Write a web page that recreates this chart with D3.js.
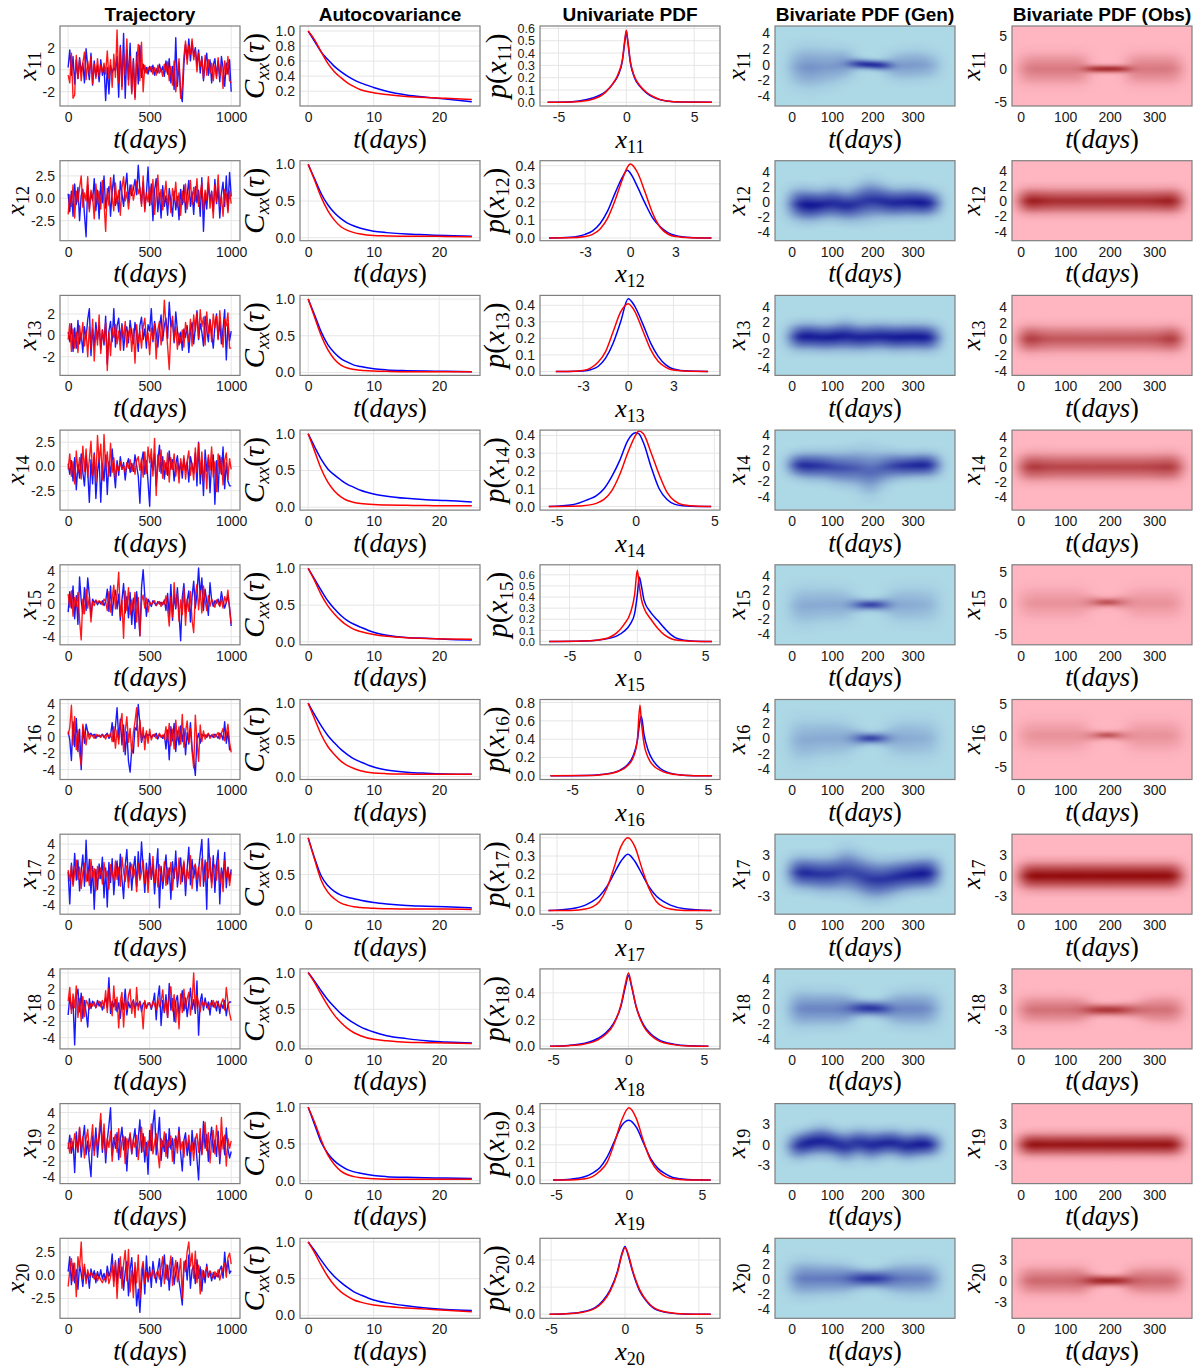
<!DOCTYPE html>
<html>
<head>
<meta charset="utf-8">
<script src="https://cdn.jsdelivr.net/npm/d3@7"></script>
<style>
  body { margin: 0; background: #fff; }
</style>
</head>
<body>
<svg id="chart" width="1201" height="1370"></svg>
<script>
// ---- data ----
const variables = ["11", "12", "13", "14", "15", "16", "17", "18", "19", "20"];
const titles = ["Trajectory", "Autocovariance", "Univariate PDF", "Bivariate PDF (Gen)", "Bivariate PDF (Obs)"];

// trajectories, one value every 10 days (0..1000)
const trajDays = d3.range(0, 1001, 10);
const trajBlue = [
  [0.2,1.8,-0.5,1.2,-1.3,0.9,-0.8,1.1,-0.2,0.6, -1.2,1.9,0.3,-0.9,1.5,-1.4,0.8,-0.6,0.4,-1.1, 0.9,-0.5,0.3,-2.8,0.2,-2.2,0.4,-0.3,0.2,-0.1, 1.2,-2.5,2.2,-1.5,3.3,-2.6,1.8,-0.9,2.4,-2.0, 1.0,-2.5,1.6,-1.3,2.2,-0.7,0.5,-0.3,0.2,-0.4, 0.3,-0.2,0.4,-0.5,0.1,-0.3,0.5,-0.2,0.3,-0.6, 0.8,-0.4,1.0,-1.2,0.3,-1.8,2.9,-1.5,0.6,-2.2, -2.9,0.5,2.3,1.0,2.8,0.8,2.5,1.2,2.0,0.4, 1.8,-0.3,1.2,-1.0,0.6,1.5,-0.5,0.9,-1.2,0.4, 1.0,-0.6,0.8,-1.1,1.2,0.2,-1.5,0.6,-0.4,0.9, -2.0],
  [0.5,-1.5,0.8,-2.0,1.6,-0.7,1.2,-2.5,0.3,1.0, -1.8,-4.3,1.5,-1.2,0.6,-0.3,2.2,-1.4,0.9,-2.3, 1.8,-0.5,2.5,-1.1,0.4,1.3,-2.0,0.7,2.6,-0.8, 0.2,-1.5,1.9,0.5,-0.9,1.2,2.8,-0.4,1.5,0.3, 1.0,2.1,0.4,3.7,0.9,-0.6,1.8,-1.2,0.5,3.5, -0.8,1.6,-2.5,0.9,2.2,-1.5,0.6,-2.2,1.4,-0.9, 0.3,-1.9,1.1,-0.4,-2.0,0.8,-1.3,0.2,-2.4,1.0, -0.7,1.5,-1.6,0.4,2.0,-0.9,0.7,-1.8,1.3,-0.5, 0.9,-2.0,2.3,-3.7,0.6,-1.2,1.7,-0.3,0.8,-1.5, 2.1,-0.6,1.2,-2.2,0.5,1.8,-0.9,2.5,-1.3,2.9, 0.2],
  [0.3,-0.6,1.1,-1.5,0.7,-1.2,1.4,-0.8,0.2,-1.6, 0.8,-0.3,1.5,2.5,-1.9,0.6,-1.0,1.2,-0.4,0.9, -1.3,0.5,-0.9,1.8,-2.7,0.4,1.3,-0.6,2.5,-1.1, 0.9,1.6,-0.5,1.1,-1.4,0.3,0.8,-0.7,1.4,0.2, -0.8,1.2,0.1,-1.5,0.9,1.7,-0.4,0.6,-1.2,1.0, 0.4,2.5,-0.6,1.3,0.2,-1.1,0.7,1.9,-0.5,0.9, 1.6,-0.3,3.1,0.8,1.4,-0.7,2.2,0.5,-0.9,0.3, -1.4,0.6,-0.2,0.9,-1.6,0.4,1.2,-0.8,0.7,2.3, -0.4,1.1,0.3,-1.0,1.8,0.5,-0.6,1.5,0.2,-1.2, 0.9,2.0,-0.3,1.3,-0.8,0.6,2.4,-2.3,1.1,-0.5, 0.4],
  [0.3,-0.8,0.6,-1.5,0.9,-2.4,0.2,-1.2,1.3,-0.6, -2.0,1.1,-0.5,-3.7,0.7,-1.8,1.4,-3.3,-0.6,0.9, -3.7,0.3,-1.5,1.2,-2.9,0.5,-1.0,1.8,-0.4,-2.2, 0.6,-0.9,1.0,-0.3,0.4,-1.4,0.2,0.8,-0.6,0.3, -0.5,1.2,0.1,-1.0,-3.8,0.4,1.5,-0.8,0.6,-1.6, -4.1,0.9,-0.4,1.3,-2.0,0.5,2.2,-0.7,1.0,-1.3, 0.4,-0.9,1.6,-0.3,0.7,-1.5,0.2,1.1,-0.6,0.4, -1.2,0.8,-0.4,0.5,-1.6,1.0,0.2,-0.7,1.4,-2.0, 2.5,-1.8,0.6,-3.0,1.7,-0.5,0.9,-2.7,0.3,1.2, -3.9,0.6,-2.6,1.1,-0.8,2.0,-2.3,0.4,-1.5,-2.0, -2.0],
  [-1.0,1.5,-0.5,2.2,-1.8,1.0,-2.5,3.3,0.4,-1.2, 2.0,-0.8,3.2,1.1,-1.5,0.6,0.2,0.4,-0.1,0.3, 0.0,0.4,-0.2,0.3,1.8,-0.9,2.2,-1.4,0.8,1.7, -0.6,1.2,-2.0,0.5,2.5,-1.1,0.9,-1.7,1.4,-2.5, 0.7,-3.0,1.5,-0.4,-3.9,2.0,4.2,1.0,-1.5,0.6, 0.2,-0.3,0.4,0.1,-0.2,0.3,0.0,0.2,-0.1,0.5, -0.8,1.3,-1.5,2.4,-2.0,1.1,-0.6,2.0,-1.2,-4.5, 0.8,2.5,-1.0,0.4,1.6,-2.2,0.9,2.8,-0.5,1.2, 4.4,1.0,3.2,-0.8,1.8,0.3,-1.4,2.6,0.5,-0.3, 0.4,0.1,0.6,-0.2,1.5,0.3,-0.5,0.2,1.0,-0.4, -2.7],
  [0.6,-0.4,-2.9,1.8,-1.2,2.2,-1.8,0.9,-4.0,1.2, -0.8,1.5,0.6,0.2,0.4,0.1,0.3,-0.2,0.2,0.0, 0.1,0.3,-0.1,0.2,0.4,-0.2,0.1,1.7,-0.6,1.2, 3.5,-0.3,2.1,-1.0,1.4,-2.2,0.6,-3.0,-4.3,-1.5, -2.0,1.1,0.8,3.9,1.5,-0.7,0.3,-0.2,0.4,0.1, 0.3,-0.1,0.2,0.0,0.4,-0.3,0.2,0.1,-0.2,0.3, -1.5,0.8,-2.8,1.2,-0.5,1.6,-1.8,0.7,-1.0,1.3, -0.6,1.0,-2.2,0.5,-0.9,1.7,-1.4,-2.8,-4.7,-0.3, 0.4,-0.8,0.3,0.1,0.2,-0.1,0.3,0.0,0.2,-0.1, 0.3,0.1,-0.2,0.4,0.2,-0.4,1.8,-0.8,0.6,-1.6, -1.6],
  [0.4,-3.8,1.5,-1.2,2.8,-0.7,1.9,-2.1,0.5,2.6, -1.5,4.5,-0.8,2.0,-2.4,1.1,-4.5,0.7,-1.9,1.4, -0.5,2.3,-3.0,0.9,-4.2,1.6,-1.0,2.1,-2.6,0.3, 1.8,-1.4,2.7,-0.6,-3.1,1.2,3.3,-0.9,1.6,-2.0, 0.8,2.4,-1.5,3.0,-0.4,4.3,0.9,-2.3,1.5,-1.0, 2.8,-0.6,1.4,-2.5,0.7,3.4,-4.3,1.1,-1.8,0.5, 2.6,-1.2,0.9,-3.2,1.7,-0.5,3.1,-1.6,0.4,2.2, -0.9,1.5,-2.7,0.8,3.6,-1.3,2.0,-0.4,1.2,-2.1, 0.6,2.7,4.6,-1.5,1.9,-4.5,4.7,0.8,-1.0,2.5, -2.3,1.4,3.2,-3.8,0.9,-0.6,2.9,-1.7,1.0,-0.8, 0.7],
  [-1.2,1.0,-0.5,0.4,-4.9,1.2,2.0,-0.8,1.5,-1.6, 0.6,-0.9,-2.7,0.8,-0.4,0.5,0.2,-0.3,0.6,-0.1, 0.4,-0.6,0.2,0.9,-0.3,3.4,-1.0,0.5,-0.2,0.7, -0.8,0.3,-1.6,0.6,-0.5,2.0,-1.2,0.4,-0.3,0.2, 0.6,-0.4,0.3,-0.1,0.5,-0.8,0.2,0.4,-0.3,0.1, 0.3,-0.5,0.2,1.5,-1.8,0.9,2.4,-2.5,0.6,-0.9, 1.3,-1.5,2.7,-0.6,0.8,-2.0,0.5,1.2,-1.1,0.4, 1.8,-0.7,0.9,-1.4,0.3,2.1,-0.5,0.7,-1.0,3.0, -3.7,0.5,1.4,-0.6,0.9,-0.3,0.4,-1.2,0.6,-0.2, 0.3,-0.7,0.5,-1.0,0.2,-0.4,0.6,-1.3,0.1,0.4, 0.4],
  [-0.5,1.2,-1.0,0.4,-3.4,1.6,-0.8,2.0,-1.5,0.7, 2.4,-1.2,0.5,-2.0,-3.9,1.1,-0.7,2.1,-1.5,0.8, 3.0,-0.9,1.7,-2.2,0.6,2.4,4.6,-1.3,0.9,-0.4, 1.5,-1.8,0.7,2.2,-0.6,1.0,-3.2,0.4,1.3,-1.1, 0.6,2.0,-1.4,0.8,3.1,-0.9,1.4,-2.1,0.3,-3.6, 1.8,-0.7,2.6,4.3,-1.2,0.9,3.4,-1.9,0.5,-0.8, 1.4,-1.6,2.0,-0.5,0.8,-2.3,1.1,-0.3,2.2,-1.0, -3.2,0.6,1.5,-1.3,0.4,-2.5,1.8,-0.6,0.9,-1.7, -4.3,0.7,-1.1,2.9,-0.4,1.3,-2.0,0.5,2.2,-0.9, 0.6,-1.4,1.7,-2.3,0.3,1.0,-1.2,2.1,-0.5,-1.6, -0.8],
  [0.4,2.0,-1.0,1.3,-0.8,0.6,-1.5,1.1,0.2,-1.2, 0.9,-0.5,0.3,-1.4,0.7,-0.2,0.5,-0.8,0.4,-0.3, 0.6,-0.4,0.2,-0.7,1.0,-0.1,0.5,2.3,-0.6,1.4, -0.9,1.8,-0.3,0.9,-1.6,0.4,1.5,-2.2,0.6,1.9, -1.0,0.8,-3.3,-1.5,-4.0,-0.8,1.2,-2.0,2.1,-0.7, 0.9,-1.3,1.5,0.2,-0.8,0.6,1.8,-1.2,0.5,2.2, -0.4,1.1,-1.6,0.7,1.9,-1.0,0.3,1.4,-0.6,-1.8, -3.2,0.8,1.6,-0.5,2.2,-1.4,0.6,1.0,-0.9,1.7, -0.3,0.9,-1.7,0.5,-0.8,1.2,-0.2,0.4,-0.6,0.3, -0.4,0.2,-0.2,0.6,1.0,-0.3,2.5,0.4,1.6,0.2, 0.5]
];
const trajRed = [
  [-0.5,-1.2,1.5,-2.6,-2.3,1.3,-0.8,0.9,-1.0,0.6, 1.6,-0.9,0.8,-0.4,1.2,-1.3,0.5,-0.8,1.0,-0.6, 0.4,-0.2,0.6,-0.4,1.7,-0.8,0.9,-1.6,1.4,-0.7, 3.6,-1.2,2.0,-1.8,1.5,-0.5,2.8,-1.4,1.2,-2.2, 0.8,-2.7,0.5,2.3,-1.0,2.5,-2.0,0.4,-0.3,0.2, -0.1,0.3,-0.4,0.2,-0.5,0.4,-0.3,0.1,-0.6,0.5, -0.2,0.7,-1.0,0.3,-1.4,0.8,-2.0,-0.6,1.0,-2.6, -1.5,1.2,2.6,0.5,2.2,1.4,2.8,0.9,1.8,-0.2, 1.5,0.3,1.0,-0.8,1.3,-0.5,0.9,-0.3,0.6,-1.0, 0.4,-0.8,1.1,-0.6,0.5,-1.7,0.8,-0.4,1.2,-1.0, -1.2],
  [-1.8,0.4,-0.9,1.5,-2.2,0.8,-0.4,1.2,2.5,-1.0, 0.6,-0.3,2.4,-1.5,0.9,0.2,-2.3,1.6,-0.6,0.8, -1.2,2.0,-0.5,-3.7,1.1,-0.8,2.3,0.1,-1.4,1.7, -0.6,0.9,-1.9,1.2,2.4,-0.3,0.7,-1.2,0.4,1.5, -0.2,0.8,1.9,0.5,1.2,-0.9,2.5,-1.5,0.6,-0.4, 1.3,-0.7,2.1,-1.8,0.4,2.6,-0.5,1.0,-1.3,0.3, 1.9,-0.8,0.5,-1.6,1.1,-0.2,1.8,-1.0,0.6,-1.9, 0.8,-0.5,1.6,-1.2,0.3,2.0,-0.7,1.2,-0.3,2.2, -0.9,0.5,1.7,-1.4,0.9,-0.2,2.4,-1.1,0.7,-2.2, 1.5,-0.4,2.6,-0.9,0.3,-2.0,1.0,0.4,-1.6,0.8, -0.6],
  [-0.4,1.1,-1.5,0.6,-1.2,0.3,-1.6,0.9,-0.5,1.2, -1.0,0.4,-2.0,0.8,-1.3,1.5,-2.4,0.6,-0.9,1.9, -1.7,0.5,-0.6,1.2,-3.3,0.3,-1.9,0.7,-0.2,1.0, -0.8,0.4,-1.4,0.9,-0.3,1.3,-1.1,0.2,0.7,-1.5, 0.6,-2.6,1.0,-0.7,0.4,-1.2,0.8,1.6,-0.5,0.2, -1.8,0.7,-0.4,1.1,-2.2,0.5,1.3,-0.9,0.4,3.3, 0.9,-1.0,-3.2,0.6,1.8,-0.5,0.8,-1.3,0.2,-0.7, 0.5,-1.1,1.2,0.3,-0.6,1.5,-1.0,1.9,0.4,2.1, -0.3,2.4,0.8,1.7,-0.9,2.2,0.2,1.4,-0.6,2.0, 0.7,1.8,-0.4,2.3,0.3,-1.1,1.5,0.9,2.1,-1.2, -1.2],
  [-0.3,1.3,-1.0,0.5,-1.8,1.6,-0.6,0.9,-1.3,2.1, -0.5,1.8,-1.1,0.7,2.6,-0.9,1.2,-1.6,3.2,0.4, 2.3,-1.4,3.3,-0.2,1.5,-1.0,2.4,-0.6,0.9,-1.2, 0.2,-0.4,0.5,-0.3,0.1,-0.6,0.4,-0.2,0.7,-0.5, 0.3,-0.8,0.6,1.0,-0.4,0.8,-1.1,1.5,-0.7,2.0, 0.4,1.8,-1.0,2.9,-3.0,1.2,-0.5,1.7,-1.2,0.6, -0.8,1.4,-1.6,0.9,-0.3,1.3,-1.0,0.5,-1.7,0.8, -0.4,1.1,-1.3,0.6,1.6,-0.9,0.3,-1.4,1.9,-0.6, 2.4,-0.8,1.5,-1.6,0.7,-2.3,1.2,-0.4,2.0,-1.1, 0.5,-2.6,1.3,-0.7,0.9,-1.9,0.6,1.4,-1.3,0.8, -0.3],
  [1.2,-0.4,1.6,-1.5,0.8,-0.3,1.4,-2.0,-4.4,0.6, -1.2,1.8,-0.5,0.9,-2.2,0.3,-0.2,0.5,0.1,0.4, 0.2,-0.1,0.6,0.3,-0.8,1.5,-1.0,0.7,2.3,-0.6, 1.2,3.9,-1.5,0.4,-4.2,1.6,-0.8,2.0,-1.3,0.5, -0.9,1.4,-2.2,0.8,-3.9,0.3,1.1,-0.5,0.7,-1.0, 0.3,-0.1,0.2,0.4,-0.2,0.1,0.3,-0.3,0.2,0.0, 1.0,-0.6,-2.7,0.9,-1.6,2.6,-0.4,1.3,-2.1,0.5, -1.3,1.9,-2.6,0.6,-0.9,1.5,-2.0,-3.5,1.1,2.4, -0.7,1.6,-1.1,2.2,0.4,-0.8,1.0,-0.3,0.6,0.2, -0.4,0.5,0.1,-0.3,0.6,-0.5,0.9,0.2,1.7,-0.6, -2.4],
  [0.2,1.1,3.8,-1.0,2.4,-1.6,0.8,-2.1,-3.5,1.5, 0.4,-1.0,0.6,-0.3,0.2,0.1,-0.2,0.3,0.0,0.2, -0.1,0.2,0.1,-0.3,0.3,0.0,0.4,-0.6,1.2,-1.4, 0.8,-0.9,1.5,2.8,-1.8,0.6,2.4,-0.7,1.0,-2.1, 0.5,1.8,3.5,-1.2,2.0,-0.5,1.1,-1.6,0.7,-0.8, 0.9,-0.4,0.2,0.3,-0.2,0.1,0.4,-0.1,0.2,-0.3, 1.2,-0.6,1.6,-1.1,0.9,-1.5,2.0,-0.4,1.2,-0.9, 2.7,-1.3,0.6,1.9,-0.7,1.0,-1.8,-3.8,2.6,-0.5, -3.0,1.4,-0.6,0.7,-0.3,0.2,0.4,-0.2,0.1,0.3, -0.1,0.2,0.5,-0.3,0.4,1.0,-0.5,0.3,1.5,-0.7, -1.9],
  [0.6,-0.8,1.2,-1.5,0.4,1.9,-0.6,1.0,-1.8,0.3, 1.5,-0.9,0.7,-1.4,2.0,-0.3,0.8,-2.1,1.1,-0.5, 0.9,-1.2,1.6,-0.4,0.5,-1.9,1.3,0.2,-0.8,1.8, -0.6,1.0,-1.5,2.3,0.4,-0.9,1.2,-1.7,0.6,1.4, -0.4,0.8,-2.2,1.5,-0.7,0.3,1.9,-1.1,0.6,-2.3, 1.2,-0.5,2.4,-1.0,0.7,-1.6,1.3,0.1,-0.9,1.7, -1.4,0.9,-0.3,1.6,-2.0,0.5,1.1,-0.8,2.2,-1.2, 0.4,1.8,-1.3,0.7,-0.5,2.5,-1.8,0.9,1.4,-0.6, 1.0,-1.5,2.1,0.3,-0.9,1.6,-0.4,2.3,-1.7,0.8, 1.3,-0.7,2.0,-1.1,0.5,-2.2,1.8,-0.3,0.9,-1.4, 0.3],
  [0.5,2.2,-1.0,1.4,-0.3,2.4,-1.5,0.8,-2.0,1.1, -1.4,0.6,0.2,-0.5,0.3,-0.1,0.4,-0.3,0.2,0.5, -0.2,0.6,-0.4,1.8,-0.9,2.1,0.3,-1.3,2.4,-0.6, 1.0,-2.8,0.5,1.6,-2.7,0.8,-0.5,1.2,2.0,-1.0, 0.7,-1.5,2.2,-0.6,0.4,-0.2,-2.9,0.6,-0.4,0.3, 0.2,-0.3,0.5,0.1,-0.6,0.8,-0.2,0.4,1.9,-0.8, 0.6,-1.5,1.1,2.3,-0.7,1.3,-2.1,0.5,-2.9,1.4, -0.9,2.0,-0.4,0.8,1.6,-1.2,0.5,4.0,-0.6,1.2, 0.3,-0.8,0.6,-0.2,0.4,0.1,-0.5,0.3,-0.1,0.6, -0.3,0.5,0.2,-0.4,0.3,0.8,-0.6,2.2,0.4,-1.0, -1.9],
  [0.3,-1.0,0.8,-0.4,1.4,0.2,-0.9,2.2,-0.5,1.0, -1.6,0.7,1.9,-0.8,0.4,2.5,-1.3,0.9,-0.2,1.6, 3.9,-0.5,2.6,-1.2,0.8,-0.3,1.7,-2.0,0.6,1.3, -0.9,2.0,-1.5,0.5,1.1,-2.3,0.8,-0.4,1.5,-1.0, 0.7,-0.3,1.2,-1.8,0.4,2.2,-0.8,1.0,-1.3,0.5, -0.6,2.6,-1.1,0.3,1.4,-0.9,-2.8,0.8,-0.2,1.6, -1.4,0.6,-0.3,1.1,-2.0,0.5,0.9,-1.0,1.7,-0.6, 0.4,-1.5,0.8,-0.4,1.2,-0.8,0.3,-1.9,0.7,1.4, -0.9,2.0,-1.2,0.6,2.8,-0.7,1.5,-2.2,0.4,1.8, -1.1,2.4,0.3,-1.6,3.4,-0.5,1.2,-2.6,0.8,-0.4, 0.5],
  [-1.2,0.5,1.8,-0.6,1.3,-2.3,2.0,0.8,3.6,-0.4, 1.2,-0.9,0.6,-0.2,0.3,0.1,-0.4,0.2,-0.6,-0.1, -0.5,-0.8,-0.3,-0.6,0.4,-0.9,-0.2,1.1,-1.2,1.6, -2.5,0.8,2.0,-1.4,1.2,2.7,-0.6,2.8,-1.8,0.5, -2.4,1.4,-0.8,2.2,-2.5,0.6,1.5,-0.9,0.3,-0.5, 0.4,-0.2,0.6,-0.3,0.2,0.5,-0.4,0.8,2.0,-0.9, 1.2,-0.5,0.7,2.1,-1.1,0.4,1.6,-0.7,0.2,1.8, -2.5,1.5,0.4,2.6,3.6,1.0,2.4,-0.3,2.6,-0.8, 1.1,-2.0,0.6,-0.4,0.3,0.9,-0.2,0.5,0.1,-0.3, 0.4,-0.1,0.6,-0.5,0.2,0.8,1.3,-0.2,1.9,2.4, 1.2]
];
const trajYDomain = [[-3.3,3.97],[-4.74,4.2],[-3.75,3.74],[-4.5,3.75],[-5.0,4.8],[-5.2,4.5],[-5.15,5.3],[-5.4,4.5],[-4.76,5.1],[-4.64,4.0]];
const trajYTicks = [[-2,0,2],[-2.5,0,2.5],[-2,0,2],[-2.5,0,2.5],[-4,-2,0,2,4],[-4,-2,0,2,4],[-4,-2,0,2,4],[-4,-2,0,2,4],[-4,-2,0,2,4],[-2.5,0,2.5]];
const trajXTicks = [0, 500, 1000];

// autocovariance
const acfLags = [0,1,2,3,4,5,6,7,8,10,12,15,18,21,25];
const acfBlue = [
  [1,0.86,0.72,0.62,0.53,0.46,0.4,0.35,0.31,0.25,0.2,0.15,0.12,0.095,0.06],
  [1,0.8,0.6,0.45,0.34,0.26,0.2,0.16,0.13,0.09,0.07,0.05,0.04,0.03,0.02],
  [1,0.78,0.55,0.38,0.27,0.19,0.14,0.1,0.08,0.05,0.035,0.025,0.02,0.015,0.01],
  [1,0.82,0.65,0.52,0.44,0.37,0.31,0.27,0.23,0.18,0.15,0.12,0.1,0.09,0.07],
  [1,0.85,0.7,0.56,0.45,0.36,0.29,0.24,0.2,0.13,0.09,0.06,0.05,0.035,0.025],
  [1,0.84,0.69,0.56,0.46,0.37,0.3,0.24,0.2,0.13,0.09,0.06,0.045,0.035,0.03],
  [1,0.72,0.48,0.35,0.27,0.22,0.19,0.17,0.15,0.12,0.1,0.08,0.07,0.06,0.045],
  [1,0.88,0.75,0.63,0.53,0.44,0.37,0.31,0.26,0.19,0.14,0.1,0.07,0.055,0.04],
  [1,0.76,0.52,0.37,0.27,0.2,0.15,0.12,0.1,0.07,0.055,0.045,0.04,0.035,0.03],
  [1,0.88,0.75,0.63,0.53,0.45,0.38,0.32,0.28,0.21,0.17,0.13,0.1,0.08,0.065]
];
const acfRed = [
  [1,0.88,0.72,0.57,0.46,0.38,0.31,0.26,0.22,0.18,0.155,0.13,0.115,0.105,0.09],
  [1,0.78,0.55,0.37,0.24,0.15,0.1,0.07,0.05,0.03,0.025,0.02,0.02,0.018,0.015],
  [1,0.75,0.5,0.31,0.18,0.1,0.06,0.04,0.03,0.02,0.015,0.01,0.01,0.01,0.01],
  [1,0.76,0.52,0.34,0.22,0.14,0.09,0.065,0.05,0.035,0.03,0.025,0.022,0.02,0.02],
  [1,0.83,0.64,0.49,0.38,0.29,0.22,0.17,0.14,0.1,0.075,0.055,0.045,0.04,0.035],
  [1,0.78,0.57,0.41,0.3,0.21,0.15,0.11,0.08,0.05,0.04,0.035,0.03,0.03,0.03],
  [1,0.7,0.42,0.26,0.17,0.11,0.08,0.06,0.05,0.04,0.035,0.03,0.03,0.03,0.025],
  [1,0.86,0.7,0.55,0.42,0.32,0.24,0.18,0.14,0.09,0.07,0.05,0.045,0.04,0.035],
  [1,0.79,0.55,0.35,0.22,0.13,0.08,0.055,0.04,0.025,0.02,0.02,0.02,0.02,0.02],
  [1,0.85,0.68,0.53,0.41,0.32,0.26,0.21,0.18,0.14,0.12,0.1,0.085,0.07,0.05]
];
const acfYDomain = [[0.003,1.067],[-0.04,1.05],[-0.04,1.05],[-0.04,1.05],[-0.04,1.05],[-0.04,1.05],[-0.04,1.05],[-0.04,1.05],[-0.04,1.05],[-0.04,1.05]];
const acfYTicks = [[0.2,0.4,0.6,0.8,1.0],[0,0.5,1],[0,0.5,1],[0,0.5,1],[0,0.5,1],[0,0.5,1],[0,0.5,1],[0,0.5,1],[0,0.5,1],[0,0.5,1]];
const acfXDomain = [-1.25, 26.25];
const acfXTicks = [0, 10, 20];

// univariate pdfs
const pdfX = [
  [-5.8,-4,-3,-2.5,-2,-1.5,-1,-0.6,-0.3,-0.1,0,0.1,0.3,0.6,1,1.5,2,2.5,3,4,6.3],
  [-5.4,-4,-3,-2.5,-2,-1.5,-1,-0.5,-0.2,0,0.5,1,1.5,2,2.5,3,4,5.4],
  [-4.8,-4,-3,-2.5,-2,-1.5,-1,-0.5,0,0.4,1,1.5,2,2.5,3,4,5.3],
  [-5.5,-4,-3,-2.5,-2,-1.5,-1,-0.5,0,0.2,0.5,1,1.5,2,2.5,3,4,4.8],
  [-6.5,-4,-3,-2,-1.5,-1,-0.5,-0.2,0,0.15,0.3,0.5,1,1.5,2,2.5,3,4,5.5],
  [-6.6,-4,-3,-2,-1.5,-1,-0.5,-0.2,0,0.1,0.3,0.6,1,1.5,2,3,4,5.3],
  [-5.6,-4,-3,-2.5,-2,-1.5,-1,-0.5,0,0.5,1,1.5,2,2.5,3,4,5.9],
  [-5.2,-4,-3,-2,-1.5,-1,-0.5,-0.2,0,0.2,0.5,1,1.5,2,3,4,5.3],
  [-5.2,-4,-3,-2.5,-2,-1.5,-1,-0.5,0,0.5,1,1.5,2,2.5,3,4,5.6],
  [-5.1,-4,-3,-2,-1.5,-1,-0.5,-0.2,0,0.2,0.5,1,1.5,2,3,4,5.8]
];
const pdfBlue = [
  [0,0.005,0.02,0.035,0.055,0.09,0.15,0.22,0.33,0.5,0.575,0.5,0.32,0.2,0.13,0.075,0.04,0.02,0.01,0.002,0],
  [0,0.004,0.02,0.04,0.08,0.15,0.25,0.34,0.375,0.36,0.28,0.19,0.11,0.062,0.03,0.014,0.003,0],
  [0,0,0.003,0.01,0.03,0.08,0.17,0.3,0.44,0.4,0.28,0.17,0.09,0.04,0.015,0.002,0],
  [0,0.01,0.04,0.06,0.1,0.17,0.26,0.37,0.415,0.41,0.36,0.22,0.1,0.04,0.012,0.004,0,0],
  [0,0.005,0.012,0.03,0.05,0.09,0.16,0.25,0.42,0.58,0.5,0.37,0.26,0.19,0.12,0.06,0.025,0.005,0],
  [0,0.004,0.012,0.035,0.06,0.11,0.22,0.38,0.6,0.65,0.45,0.28,0.16,0.08,0.04,0.01,0.002,0],
  [0,0.01,0.03,0.05,0.08,0.13,0.2,0.27,0.31,0.27,0.2,0.13,0.08,0.05,0.03,0.01,0],
  [0,0.005,0.02,0.06,0.1,0.17,0.3,0.45,0.53,0.45,0.3,0.16,0.09,0.05,0.015,0.003,0],
  [0,0.005,0.02,0.04,0.07,0.13,0.22,0.31,0.34,0.3,0.21,0.12,0.065,0.035,0.015,0.003,0],
  [0,0.004,0.015,0.05,0.1,0.18,0.32,0.45,0.5,0.44,0.32,0.17,0.09,0.04,0.01,0.002,0]
];
const pdfRed = [
  [0,0.003,0.012,0.025,0.045,0.085,0.15,0.23,0.34,0.52,0.585,0.51,0.33,0.21,0.135,0.08,0.045,0.022,0.01,0.002,0],
  [0,0.001,0.008,0.02,0.05,0.11,0.21,0.33,0.39,0.41,0.36,0.25,0.135,0.058,0.022,0.008,0.002,0],
  [0,0,0.006,0.02,0.055,0.12,0.24,0.36,0.41,0.37,0.24,0.13,0.06,0.025,0.008,0.001,0],
  [0,0.001,0.008,0.018,0.04,0.09,0.18,0.3,0.4,0.425,0.41,0.3,0.18,0.08,0.03,0.01,0.001,0],
  [0,0.004,0.012,0.04,0.08,0.15,0.26,0.42,0.64,0.5,0.38,0.3,0.2,0.12,0.06,0.025,0.01,0.002,0],
  [0,0.003,0.01,0.03,0.055,0.1,0.2,0.38,0.77,0.6,0.35,0.2,0.11,0.06,0.03,0.008,0.002,0],
  [0,0.001,0.008,0.02,0.05,0.12,0.23,0.35,0.4,0.35,0.23,0.12,0.05,0.02,0.008,0.001,0],
  [0,0.004,0.015,0.05,0.09,0.16,0.31,0.47,0.55,0.46,0.3,0.15,0.08,0.04,0.012,0.002,0],
  [0,0.001,0.008,0.02,0.05,0.1,0.21,0.34,0.41,0.35,0.22,0.11,0.05,0.02,0.008,0.001,0],
  [0,0.003,0.012,0.045,0.09,0.17,0.31,0.44,0.49,0.45,0.33,0.18,0.095,0.045,0.012,0.002,0]
];
const pdfXDomain = [[-6.36,6.9],[-6,5.97],[-5.85,6.09],[-6.06,5.36],[-7.18,6.1],[-7.37,5.9],[-6.2,6.5],[-5.87,6.07],[-6.1,6.24],[-5.75,6.43]];
const pdfYDomain = [[-0.03,0.62],[-0.015,0.428],[-0.024,0.46],[-0.02,0.43],[-0.03,0.69],[-0.04,0.833],[-0.02,0.42],[-0.02,0.58],[-0.02,0.434],[-0.03,0.56]];
const pdfXTicks = [[-5,0,5],[-3,0,3],[-3,0,3],[-5,0,5],[-5,0,5],[-5,0,5],[-5,0,5],[-5,0,5],[-5,0,5],[-5,0,5]];
const pdfYTicks = [[0,0.1,0.2,0.3,0.4,0.5,0.6],[0,0.1,0.2,0.3,0.4],[0,0.1,0.2,0.3,0.4],[0,0.1,0.2,0.3,0.4],[0,0.1,0.2,0.3,0.4,0.5,0.6],[0,0.2,0.4,0.6,0.8],[0,0.1,0.2,0.3,0.4],[0,0.2,0.4],[0,0.1,0.2,0.3,0.4],[0,0.2,0.4]];

// bivariate densities: 30-day columns, band centre / spread / peak darkness
const heatStart = [0,30,60,90,120,150,180,210,240,270,300,330];
const heatStep = 30;
const genCenter = [
  [-0.3,-0.4,-0.3,-0.2,0.1,0.1,0,-0.1,-0.2,-0.1,0,-0.1],
  [-0.3,-0.5,-0.4,-0.1,-0.6,-0.2,0.3,0.1,-0.2,0,-0.1,-0.2],
  [0.1,0.2,0,0.1,0.3,0,0.1,0.2,0,0.1,0.1,0],
  [0.1,0,0,-0.2,-0.3,-0.3,-0.9,-0.3,0,0,0.1,0.1],
  [-0.2,-0.1,0,0,0,0,0,0,0,0,0,0],
  [-0.3,-0.2,0,0,0,0,0,0,0,0,0,0],
  [0.5,0.4,0.2,0.3,0.8,0.2,-0.5,-0.6,-0.2,0.1,0.3,0.4],
  [0,0,0,0,0,0.1,0.1,0,0,0,0,0],
  [-0.2,0.3,0.6,0.2,-0.4,0.4,-0.2,0.2,0.3,-0.3,0.1,0],
  [0,0,0,0,0,0,0,0,0,0,0,0]
];
const genSpread = [
  [1.3,1.4,1.3,1.2,1.0,0.35,0.3,0.35,0.9,1.0,1.0,0.9],
  [1.1,1.1,1.0,1.1,1.0,1.2,1.3,1.1,1.0,1.0,1.0,0.9],
  [0.9,0.9,0.9,0.9,1.0,0.9,0.9,0.9,0.9,0.9,0.9,0.9],
  [0.8,0.9,0.9,1.0,1.1,1.2,1.5,1.1,0.9,0.8,0.8,0.8],
  [1.4,1.4,1.3,1.3,1.2,0.5,0.35,0.5,1.2,1.3,1.3,1.3],
  [1.5,1.4,1.3,1.3,1.2,0.6,0.35,0.5,1.2,1.3,1.3,1.3],
  [1.2,1.2,1.3,1.3,1.6,1.5,1.5,1.4,1.3,1.2,1.2,1.2],
  [1.3,1.2,1.2,1.2,1.1,0.6,0.5,0.6,1.1,1.2,1.2,1.2],
  [1.0,1.0,1.1,1.0,1.1,1.0,1.1,1.0,1.0,1.0,1.0,0.9],
  [1.2,1.2,1.1,1.1,1.0,0.7,0.6,0.7,1.0,1.1,1.1,1.1]
];
const genPeak = [
  [0.3,0.35,0.3,0.3,0.35,0.9,1.0,0.95,0.3,0.3,0.3,0.25],
  [0.9,1.0,0.9,0.85,0.9,0.8,0.8,0.85,0.9,0.9,0.95,0.95],
  [0.95,0.95,0.9,0.95,0.9,0.9,0.9,0.9,0.95,0.95,0.95,0.95],
  [0.9,0.85,0.8,0.7,0.65,0.6,0.55,0.6,0.75,0.85,0.9,0.9],
  [0.22,0.22,0.22,0.22,0.22,0.55,0.95,0.6,0.22,0.22,0.2,0.18],
  [0.22,0.22,0.22,0.22,0.22,0.5,0.95,0.55,0.22,0.22,0.2,0.18],
  [0.9,0.85,0.8,0.8,0.7,0.75,0.8,0.8,0.85,0.9,0.95,0.95],
  [0.4,0.4,0.4,0.4,0.45,0.75,0.9,0.75,0.4,0.4,0.4,0.35],
  [0.9,0.95,0.9,0.9,0.85,0.85,0.9,0.9,0.9,0.9,0.95,0.95],
  [0.45,0.45,0.45,0.45,0.5,0.75,0.85,0.75,0.5,0.45,0.45,0.4]
];
const obsCenter = [
  [0,0,0,0,0,0,0,0,0,0,0,0],
  [0,0,0,0,0,0,0,0,0,0,0,0],
  [0,0,0,0,0,0,0,0,0,0,0,0],
  [0,0,0,0,0,0,0,0,0,0,0,0],
  [0,0,0,0,0,0.1,0.1,0.1,0,0,0,0],
  [0,0,0,0,0,0,0.1,0,0,0,0,0],
  [0,0,0,0,0,0,0,0,0,0,0,0],
  [0,0,0,0,0,0,0,0,0,0,0,0],
  [0,0,0,0,0,0,0,0,0,0,0,0],
  [0,0,0,0,0,0,0,0,0,0,0,0]
];
const obsSpread = [
  [1.3,1.3,1.3,1.3,1.3,0.3,0.3,0.3,1.3,1.3,1.3,1.3],
  [0.9,0.9,0.9,0.9,0.9,0.9,0.9,0.9,0.9,0.9,0.9,0.9],
  [0.9,0.9,0.9,0.9,0.9,0.9,0.9,0.9,0.9,0.9,0.9,0.9],
  [1.0,1.0,1.0,1.0,1.0,1.0,1.0,1.0,1.0,1.0,1.0,1.0],
  [1.4,1.4,1.4,1.4,1.4,0.6,0.35,0.6,1.4,1.4,1.4,1.4],
  [1.4,1.4,1.4,1.4,1.4,0.5,0.3,0.5,1.4,1.4,1.4,1.4],
  [1.1,1.1,1.1,1.1,1.1,1.1,1.1,1.1,1.1,1.1,1.1,1.1],
  [1.1,1.1,1.1,1.1,1.0,0.5,0.45,0.5,0.6,1.0,1.1,1.1],
  [0.9,0.9,0.9,0.9,0.9,0.9,0.9,0.9,0.9,0.9,0.9,0.9],
  [1.1,1.1,1.1,1.1,1.1,0.5,0.4,0.45,1.0,1.1,1.1,1.1]
];
const obsPeak = [
  [0.35,0.35,0.35,0.35,0.35,0.95,1,0.95,0.35,0.35,0.35,0.35],
  [0.95,0.85,0.8,0.8,0.8,0.8,0.8,0.8,0.8,0.8,0.85,0.95],
  [0.8,0.6,0.55,0.55,0.55,0.55,0.55,0.55,0.55,0.55,0.6,0.8],
  [0.75,0.7,0.65,0.65,0.65,0.65,0.65,0.65,0.65,0.65,0.7,0.75],
  [0.2,0.2,0.2,0.2,0.2,0.4,0.8,0.4,0.2,0.2,0.2,0.2],
  [0.2,0.2,0.2,0.2,0.2,0.35,0.85,0.35,0.2,0.2,0.2,0.2],
  [1,1,1,1,1,1,1,1,1,1,1,1],
  [0.4,0.4,0.4,0.4,0.45,0.75,0.85,0.75,0.5,0.4,0.4,0.4],
  [1,0.95,0.95,0.95,0.95,0.95,0.95,0.95,0.95,0.95,0.95,1],
  [0.45,0.45,0.45,0.45,0.5,0.85,0.95,0.85,0.5,0.45,0.45,0.45]
];
const genXDomain = [-41, 405];
const obsXDomain = [-19.5, 385];
const heatXTicks = [0, 100, 200, 300];
const genYDomain = [[-5.25,4.9],[-5.2,5.5],[-4.9,5.5],[-5.7,4.6],[-5.5,5.5],[-5.4,5.1],[-5.6,6.1],[-5.3,5.3],[-5.7,6.0],[-5.3,5.4]];
const genYTicks = [[-4,-2,0,2,4],[-4,-2,0,2,4],[-4,-2,0,2,4],[-4,-2,0,2,4],[-4,-2,0,2,4],[-4,-2,0,2,4],[-3,0,3],[-4,-2,0,2,4],[-3,0,3],[-4,-2,0,2,4]];
const obsYDomain = [[-5.6,6.5],[-5.2,5.3],[-4.5,5.4],[-5.7,4.9],[-6.8,6.2],[-7.0,5.8],[-5.6,6.1],[-5.7,6.0],[-5.7,6.0],[-5.4,6.1]];
const obsYTicks = [[-5,0,5],[-4,-2,0,2,4],[-4,-2,0,2,4],[-4,-2,0,2,4],[-5,0,5],[-5,0,5],[-3,0,3],[-3,0,3],[-3,0,3],[-3,0,3]];

// ---- layout ----
const W = 180, H = 80;
const colX = [60, 300, 540, 775, 1012];
const labelGap = [7, 12, 12, 13, 15];
const rowY = i => 26 + i * 134.7;
const sansFont = "'Liberation Sans', Arial, Helvetica, sans-serif";
const mathFont = "'Liberation Serif', 'Times New Roman', serif";
const blue = "#0000ff", red = "#ff0000";

const svg = d3.select("#chart");
svg.append("rect").attr("width", 1201).attr("height", 1370).attr("fill", "#fff");
const defs = svg.append("defs");
defs.append("clipPath").attr("id", "clipPanel")
  .append("rect").attr("width", W).attr("height", H);
defs.append("filter").attr("id", "smear")
  .attr("x", "-0.2").attr("y", "-0.3").attr("width", "1.4").attr("height", "1.6")
  .append("feGaussianBlur").attr("stdDeviation", "7 1.5");

const tickFmt = ticks => ticks.some(v => !Number.isInteger(v)) ? (v => v.toFixed(1)) : (v => String(v));

// column titles
titles.forEach((t, i) => {
  svg.append("text")
    .attr("x", colX[i] + W / 2).attr("y", 20.5)
    .attr("text-anchor", "middle")
    .attr("font-family", sansFont).attr("font-size", 19).attr("font-weight", "bold")
    .text(t);
});

// math-style label made of tspans: [text, kind], kind: i italic, r roman, s subscript, si italic subscript
function mathText(sel, parts, size, subSize) {
  let lowered = false;
  const shift = size * 0.2;
  parts.forEach(([str, kind]) => {
    const sub = kind === "s" || kind === "si";
    const ts = sel.append("tspan").text(str)
      .attr("font-style", kind === "i" || kind === "si" ? "italic" : "normal")
      .attr("font-size", sub ? subSize : size);
    if (sub && !lowered) { ts.attr("dy", shift); lowered = true; }
    else if (!sub && lowered) { ts.attr("dy", -shift); lowered = false; }
  });
  return sel;
}

function xLabel(g, parts, size = 26.5, subSize = 18) {
  const t = g.append("text")
    .attr("x", W / 2).attr("y", H + 41.5)
    .attr("text-anchor", "middle")
    .attr("font-family", mathFont).attr("fill", "#000");
  mathText(t, parts, size, subSize);
}

function yLabel(g, yAxisG, parts, gap, size, subSize) {
  const bb = yAxisG.node().getBBox();
  const lx = bb.x - gap;
  const t = g.append("text")
    .attr("transform", `translate(${lx},${H / 2}) rotate(-90)`)
    .attr("text-anchor", "middle")
    .attr("font-family", mathFont).attr("fill", "#000");
  mathText(t, parts, size, subSize);
}

function axes(g, x, y, xt, yt, grid) {
  if (grid) {
    const gg = g.append("g").attr("stroke", "#e6e6e6").attr("stroke-width", 1);
    gg.selectAll(".gx").data(xt).join("line")
      .attr("x1", d => x(d)).attr("x2", d => x(d)).attr("y1", 0).attr("y2", H);
    gg.selectAll(".gy").data(yt).join("line")
      .attr("x1", 0).attr("x2", W).attr("y1", d => y(d)).attr("y2", d => y(d));
  }
  const xa = g.append("g").attr("transform", `translate(0,${H})`)
    .call(d3.axisBottom(x).tickValues(xt).tickSize(0).tickPadding(6).tickFormat(tickFmt(xt)));
  const ya = g.append("g")
    .call(d3.axisLeft(y).tickValues(yt).tickSize(0).tickPadding(5).tickFormat(tickFmt(yt)));
  // crowded y axes (many ticks in a short panel) get a smaller font
  const step = Math.abs(y(yt[1]) - y(yt[0]));
  [xa, ya].forEach(a => {
    a.select(".domain").remove();
    a.attr("font-family", sansFont).attr("font-size", 14).style("color", "#1a1a1a");
  });
  if (step < 11.5) ya.attr("font-size", 11.5);
  else if (step < 12.5) ya.attr("font-size", 12.5);
  return ya;
}

function frame(g) {
  g.append("rect").attr("width", W).attr("height", H)
    .attr("fill", "none").attr("stroke", "#7f7f7f").attr("stroke-width", 1.2);
}

function lines(g, x, y, xs, series, width, opacity, curve) {
  const plot = g.append("g").attr("clip-path", "url(#clipPanel)");
  series.forEach(([vals, color]) => {
    const line = d3.line().x((d, i) => x(xs[i])).y(d => y(d));
    if (curve) line.curve(curve);
    plot.append("path").datum(vals)
      .attr("fill", "none").attr("stroke", color)
      .attr("stroke-width", width).attr("stroke-opacity", opacity)
      .attr("stroke-linejoin", "round")
      .attr("d", line);
  });
}

let gradId = 0;
function heat(g, x, y, center, spread, peak, light, dark) {
  g.append("rect").attr("width", W).attr("height", H).attr("fill", light);
  const dens = g.append("g").attr("clip-path", "url(#clipPanel)")
    .append("g").attr("filter", "url(#smear)");
  const prof = [[0, 0], [1 / 6, 0.135], [2 / 6, 0.6], [0.5, 1], [4 / 6, 0.6], [5 / 6, 0.135], [1, 0]];
  heatStart.forEach((t0, j) => {
    const id = "hg" + (gradId++);
    const grad = defs.append("linearGradient").attr("id", id)
      .attr("x1", 0).attr("y1", 0).attr("x2", 0).attr("y2", 1);
    prof.forEach(([o, a]) => {
      grad.append("stop").attr("offset", o).attr("stop-color", dark).attr("stop-opacity", a * peak[j]);
    });
    const top = y(center[j] + 3 * spread[j]), bot = y(center[j] - 3 * spread[j]);
    dens.append("rect")
      .attr("x", x(t0)).attr("width", x(t0 + heatStep) - x(t0))
      .attr("y", top).attr("height", bot - top)
      .attr("fill", `url(#${id})`);
  });
}

variables.forEach((v, r) => {
  const top = rowY(r);
  const panel = c => svg.append("g").attr("transform", `translate(${colX[c]},${top})`);

  // trajectory
  {
    const g = panel(0);
    const x = d3.scaleLinear().domain([-50, 1054]).range([0, W]);
    const y = d3.scaleLinear().domain(trajYDomain[r]).range([H, 0]);
    const ya = axes(g, x, y, trajXTicks, trajYTicks[r], true);
    lines(g, x, y, trajDays, [[trajBlue[r], blue], [trajRed[r], red]], 1.4, 0.9, null);
    frame(g);
    xLabel(g, [["t", "i"], ["(", "r"], ["days", "i"], [")", "r"]]);
    yLabel(g, ya, [["x", "i"], [v, "s"]], labelGap[0], 26, 18);
  }
  // autocovariance
  {
    const g = panel(1);
    const x = d3.scaleLinear().domain(acfXDomain).range([0, W]);
    const y = d3.scaleLinear().domain(acfYDomain[r]).range([H, 0]);
    const ya = axes(g, x, y, acfXTicks, acfYTicks[r], true);
    lines(g, x, y, acfLags, [[acfBlue[r], blue], [acfRed[r], red]], 1.5, 1, d3.curveMonotoneX);
    frame(g);
    xLabel(g, [["t", "i"], ["(", "r"], ["days", "i"], [")", "r"]]);
    yLabel(g, ya, [["C", "i"], ["xx", "si"], ["(", "r"], ["τ", "i"], [")", "r"]], labelGap[1], 29, 19);
  }
  // univariate pdf
  {
    const g = panel(2);
    const x = d3.scaleLinear().domain(pdfXDomain[r]).range([0, W]);
    const y = d3.scaleLinear().domain(pdfYDomain[r]).range([H, 0]);
    const ya = axes(g, x, y, pdfXTicks[r], pdfYTicks[r], true);
    lines(g, x, y, pdfX[r], [[pdfBlue[r], blue], [pdfRed[r], red]], 1.5, 1, d3.curveMonotoneX);
    frame(g);
    xLabel(g, [["x", "i"], [v, "s"]], 26, 18);
    yLabel(g, ya, [["p", "i"], ["(", "r"], ["x", "i"], [v, "s"], [")", "r"]], labelGap[2], 29, 19);
  }
  // bivariate pdf, generated
  {
    const g = panel(3);
    const x = d3.scaleLinear().domain(genXDomain).range([0, W]);
    const y = d3.scaleLinear().domain(genYDomain[r]).range([H, 0]);
    heat(g, x, y, genCenter[r], genSpread[r], genPeak[r], "#add8e6", "#00008b");
    const ya = axes(g, x, y, heatXTicks, genYTicks[r], false);
    frame(g);
    xLabel(g, [["t", "i"], ["(", "r"], ["days", "i"], [")", "r"]]);
    yLabel(g, ya, [["x", "i"], [v, "s"]], labelGap[3], 26, 18);
  }
  // bivariate pdf, observed
  {
    const g = panel(4);
    const x = d3.scaleLinear().domain(obsXDomain).range([0, W]);
    const y = d3.scaleLinear().domain(obsYDomain[r]).range([H, 0]);
    heat(g, x, y, obsCenter[r], obsSpread[r], obsPeak[r], "#ffb6c1", "#8b0000");
    const ya = axes(g, x, y, heatXTicks, obsYTicks[r], false);
    frame(g);
    xLabel(g, [["t", "i"], ["(", "r"], ["days", "i"], [")", "r"]]);
    yLabel(g, ya, [["x", "i"], [v, "s"]], labelGap[4], 26, 18);
  }
});
</script>
</body>
</html>
